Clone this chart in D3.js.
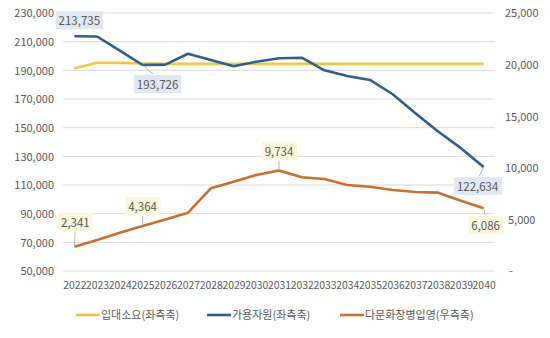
<!DOCTYPE html>
<html>
<head>
<meta charset="utf-8">
<script src="https://cdn.jsdelivr.net/npm/d3@7"></script>
<style>
  html, body { margin: 0; padding: 0; background: #ffffff; }
  svg { display: block; }
  text { font-family: "Noto Sans CJK KR", "Noto Sans", sans-serif; fill: #595959; }
</style>
</head>
<body>
<svg id="chart" width="550" height="338"></svg>
<script>
const years = ["2022","2023","2024","2025","2026","2027","2028","2029","2030","2031","2032","2033","2034","2035","2036","2037","2038","2039","2040"];
const demand = [191500,195300,195200,194800,194500,194500,194500,194500,194500,194500,194500,194500,194500,194500,194500,194500,194500,194500,194500];
const available = [213735,213600,203700,193726,194000,201600,197200,192800,196000,198400,198800,190000,186100,183300,173300,160100,147300,135700,122634];
const multicultural = [2341,3000,3700,4364,5000,5650,8010,8650,9300,9734,9080,8910,8330,8170,7850,7650,7590,6810,6086];
const leftTicks = [50000,70000,90000,110000,130000,150000,170000,190000,210000,230000];
const rightTicks = [0,5000,10000,15000,20000,25000];
const seriesNames = ["입대소요(좌측축)","가용자원(좌측축)","다문화장병입영(우측축)"];
const seriesColors = ["#e9c84a","#2f5f88","#c8712f"];

const svg = d3.select("#chart");
const x = d3.scalePoint().domain(years).range([63, 495]).padding(0.5);
const yL = d3.scaleLinear().domain([50000, 230000]).range([271, 13]);
const yR = d3.scaleLinear().domain([0, 25000]).range([271, 13]);
const fmt = d3.format(",");

// gridlines
svg.append("g").selectAll("line").data(leftTicks).join("line")
  .attr("x1", 63).attr("x2", 495)
  .attr("y1", d => yL(d)).attr("y2", d => yL(d))
  .attr("stroke", "#d9d9d9").attr("stroke-width", 1);

// left axis
const gl = svg.append("g").attr("transform", "translate(54,0)")
  .call(d3.axisLeft(yL).tickValues(leftTicks).tickFormat(fmt).tickSize(0).tickPadding(0));
gl.select(".domain").remove();
gl.selectAll("text").style("font-size", "11px").attr("fill", "#595959").attr("dy", "0.35em");

// right axis
const gr = svg.append("g").attr("transform", "translate(505,0)")
  .call(d3.axisRight(yR).tickValues(rightTicks).tickFormat(d => d === 0 ? "-" : fmt(d)).tickSize(0).tickPadding(0));
gr.select(".domain").remove();
gr.selectAll("text").style("font-size", "11px").attr("fill", "#595959").attr("dy", "0.35em")
  .attr("x", d => d === 0 ? 4 : (d < 10000 ? 3 : 0));

// x axis
const gx = svg.append("g").attr("transform", "translate(0,282)")
  .call(d3.axisBottom(x).tickSize(0).tickPadding(0));
gx.select(".domain").remove();
gx.selectAll("text").style("font-size", "10.4px").attr("fill", "#595959").attr("dy", "0.71em");

// lines
const lineL = d3.line().x((d, i) => x(years[i])).y(d => yL(d));
const lineR = d3.line().x((d, i) => x(years[i])).y(d => yR(d));
svg.append("path").datum(demand).attr("d", lineL)
  .attr("fill", "none").attr("stroke", seriesColors[0]).attr("stroke-width", 2.6).attr("stroke-linejoin", "round");
svg.append("path").datum(available).attr("d", lineL)
  .attr("fill", "none").attr("stroke", seriesColors[1]).attr("stroke-width", 2.6).attr("stroke-linejoin", "round");
svg.append("path").datum(multicultural).attr("d", lineR)
  .attr("fill", "none").attr("stroke", seriesColors[2]).attr("stroke-width", 2.6).attr("stroke-linejoin", "round");

// data labels
const labels = [
  {arr: available, scale: yL, i: 0, dx: 5, dy: -15, fill: "#dfe8f3", leader: false},
  {arr: available, scale: yL, i: 3, dx: 15, dy: 20, fill: "#dfe8f3", leader: true},
  {arr: available, scale: yL, i: 18, dx: -6, dy: 20, fill: "#dfe8f3", leader: true},
  {arr: multicultural, scale: yR, i: 0, dx: 1, dy: -24, fill: "#fbf7dc", leader: true},
  {arr: multicultural, scale: yR, i: 3, dx: 0, dy: -19, fill: "#fbf7dc", leader: true},
  {arr: multicultural, scale: yR, i: 9, dx: 0, dy: -19, fill: "#fbf7dc", leader: true},
  {arr: multicultural, scale: yR, i: 18, dx: 2, dy: 18, fill: "#fbf7dc", leader: true}
];
const lg = svg.append("g");
labels.forEach(l => {
  const px = x(years[l.i]), py = l.scale(l.arr[l.i]);
  const cx = px + l.dx, cy = py + l.dy;
  const t = lg.append("text").attr("x", cx).attr("y", cy).attr("text-anchor", "middle")
    .attr("dy", "0.35em").style("font-size", "11.5px").attr("fill", "#404040").text(fmt(l.arr[l.i]));
  const bb = t.node().getBBox();
  if (l.leader) {
    const ey = l.dy < 0 ? bb.y + bb.height + 2 : bb.y - 2;
    lg.insert("line", "text").attr("x1", px).attr("y1", py).attr("x2", cx - l.dx * 0.3).attr("y2", ey)
      .attr("stroke", "#a6a6a6").attr("stroke-width", 0.8);
  }
  lg.insert("rect", "text").attr("x", bb.x - 3).attr("y", bb.y - 1).attr("width", bb.width + 6).attr("height", bb.height + 2)
    .attr("fill", l.fill);
});

// legend
const legendItems = [
  {name: seriesNames[0], color: seriesColors[0], x0: 76},
  {name: seriesNames[1], color: seriesColors[1], x0: 207},
  {name: seriesNames[2], color: seriesColors[2], x0: 340}
];
const leg = svg.append("g");
legendItems.forEach(it => {
  leg.append("line").attr("x1", it.x0).attr("x2", it.x0 + 24).attr("y1", 315).attr("y2", 315)
    .attr("stroke", it.color).attr("stroke-width", 2.6);
  leg.append("text").attr("x", it.x0 + 25).attr("y", 315).attr("dy", "0.35em")
    .style("font-size", "11px").attr("fill", "#595959").text(it.name);
});
</script>
</body>
</html>
